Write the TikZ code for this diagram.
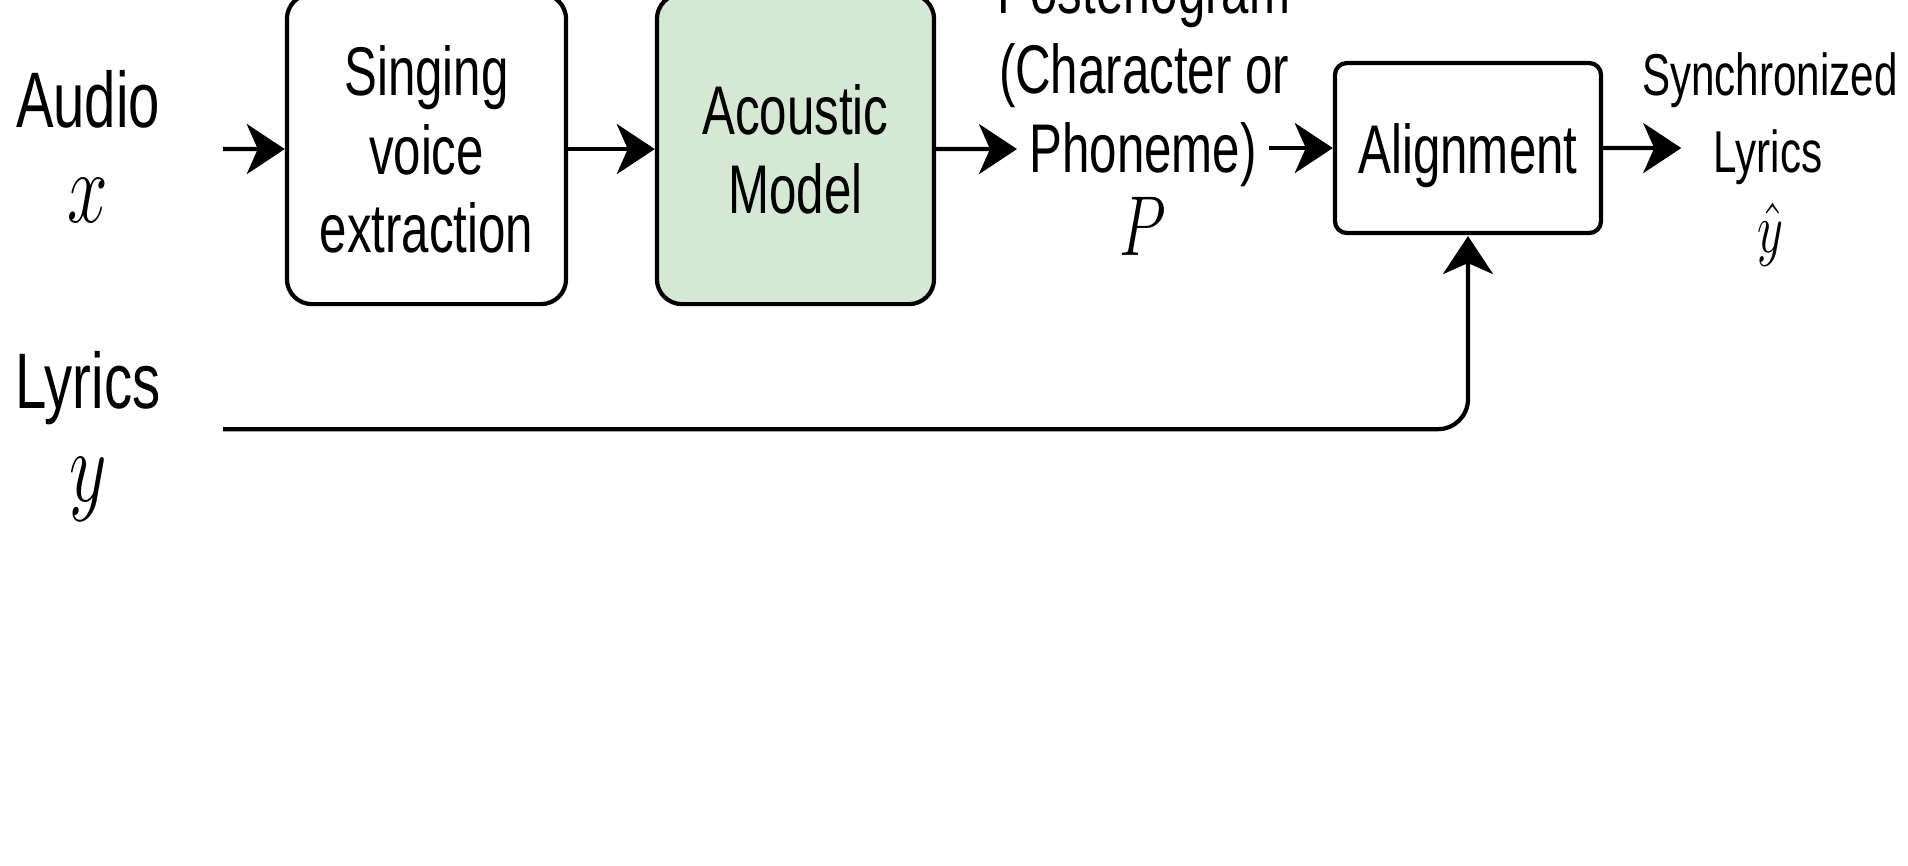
\documentclass[tikz,border=0pt]{standalone}
\usepackage{fontspec}
\setmainfont{Liberation Sans}
\usepackage{xcolor}
\definecolor{ModelGreen}{HTML}{D5E8D4}
\usetikzlibrary{arrows.meta}

\begin{document}
\begin{tikzpicture}[x=0.01cm, y=-0.0071429cm, yscale=1.4, every node/.append style={transform shape},
	block/.style={align=center, rectangle, rounded corners=0.25cm, text centered, draw=black, line width=1.2pt, font=\fontsize{14}{16}\selectfont},
	txt/.style={anchor=base, font=\fontsize{16}{19}\selectfont},
	mathtxt/.style={anchor=base, font=\fontsize{21}{25}\selectfont},
	flow/.style={line width=1.2pt, -{Stealth[length=3.8mm, width=5mm, inset=1.1mm]}}]
	\path[use as bounding box, clip] (0,0) rectangle (1908,865);

	\node (audio)[txt] at (88,127) {Audio};
	\node (xin)[mathtxt] at (88,222) {$x$};
	\node (lyrin)[txt] at (88,408) {Lyrics};
	\node (yin)[mathtxt] at (88,501) {$y$};

	\node (sing)[block, minimum width=2.79cm, minimum height=2.214cm, text depth=0pt] at (426.5,149) {Singing\\voice\\extraction};
	\node (acou)[block, minimum width=2.77cm, minimum height=2.214cm, fill=ModelGreen] at (795.5,149) {Acoustic\\Model};
	\node (align)[block, rounded corners=0.12cm, minimum width=2.66cm, minimum height=1.214cm, text depth=0pt] at (1468,148) {Alignment};

	\node (post)[txt, font=\fontsize{14}{16}\selectfont] at (1144,13) {Posteriogram};
	\node (postb)[txt, font=\fontsize{14}{16}\selectfont] at (1144,93) {(Character or};
	\node (phon)[txt, font=\fontsize{14}{16}\selectfont] at (1143,172) {Phoneme)};
	\node (pvar)[mathtxt, font=\fontsize{17}{20}\selectfont] at (1143,255) {$P$};

	\node (sync)[txt, font=\fontsize{12}{14}\selectfont] at (1770,95) {Synchronized};
	\node (outlyr)[txt, font=\fontsize{12}{14}\selectfont] at (1768,172) {Lyrics};
	\node (yhat)[mathtxt, font=\fontsize{14}{17}\selectfont] at (1770,252) {$\hat{y}$};

	\coordinate (ain) at (223,149);
	\coordinate (lin) at (223,429);

	\draw[flow] (ain) -- (sing);
	\draw[flow] (sing) -- (acou);
	\draw[flow] (acou) -- (acou -| phon.west);
	\draw[flow] (phon.east |- align.west) -- (align.west);
	\draw[flow, shorten >=0.2cm] (align) -- (align -| outlyr.west);
	\draw[flow, rounded corners=0.3cm] (lin) -| (align.south);
\end{tikzpicture}
\end{document}
